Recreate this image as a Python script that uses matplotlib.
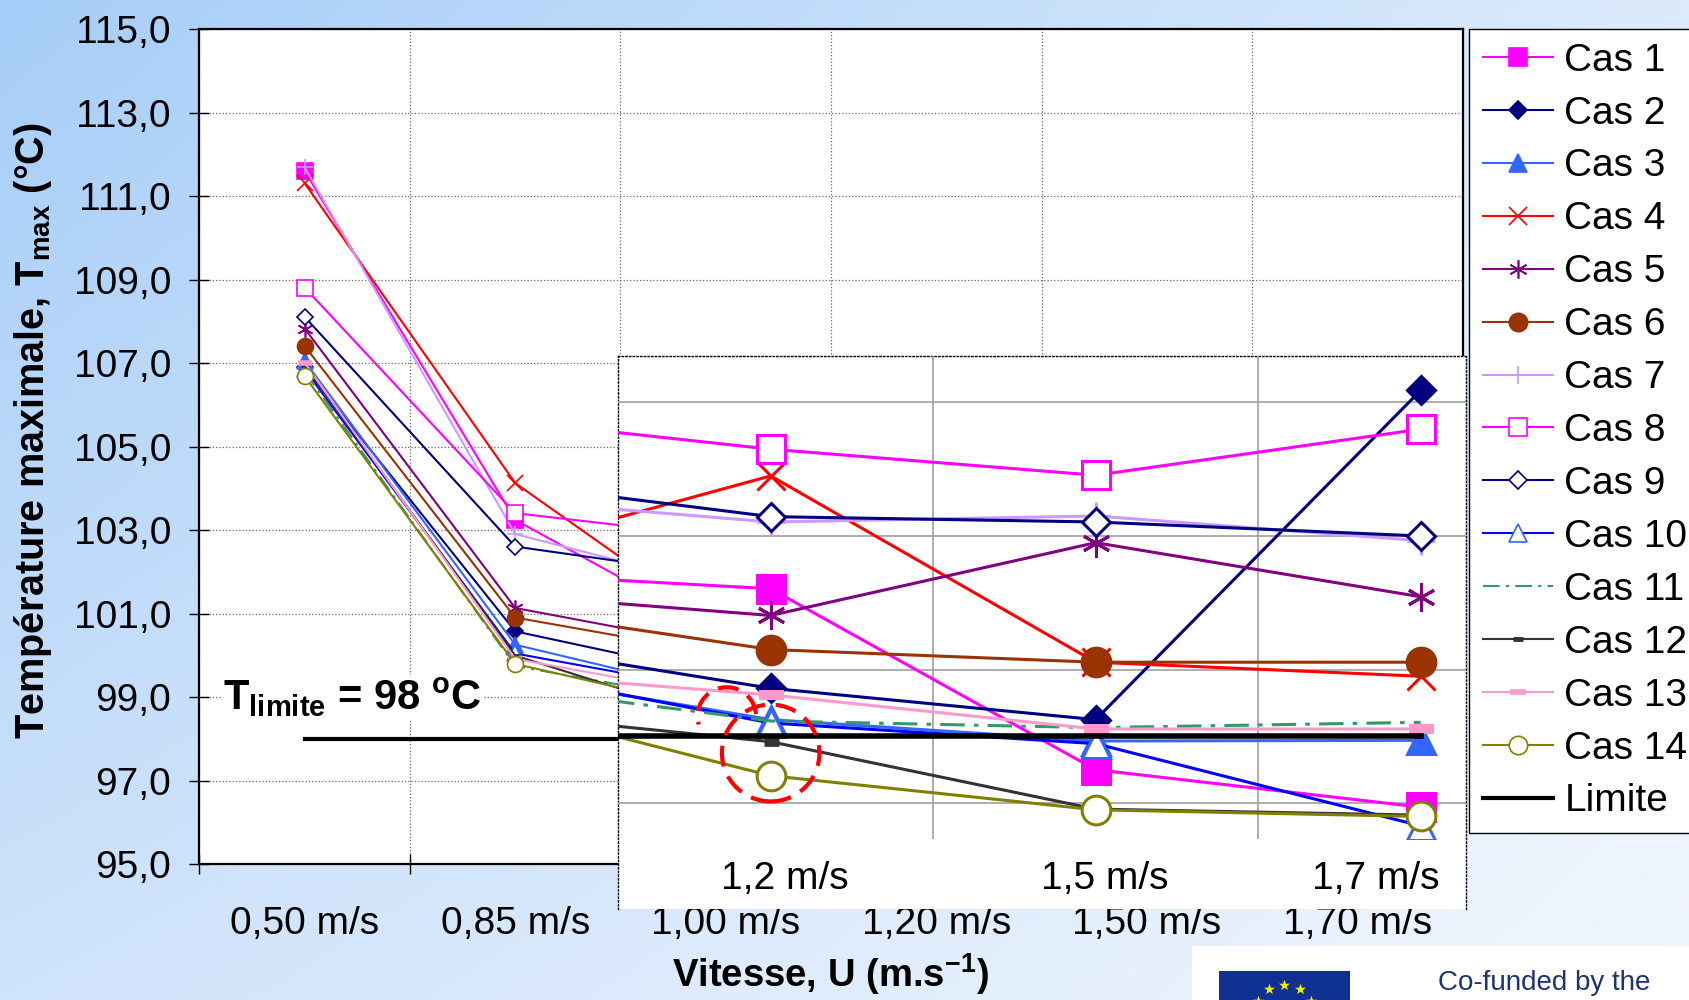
import numpy as np
import matplotlib
matplotlib.use('Agg')
import matplotlib.pyplot as plt
from matplotlib.patches import Ellipse, Arc, Rectangle

plt.rcParams['font.family'] = ['Liberation Sans', 'DejaVu Sans']
plt.rcParams['mathtext.fontset'] = 'custom'
plt.rcParams['mathtext.rm'] = 'Liberation Sans'
plt.rcParams['mathtext.bf'] = 'Liberation Sans:bold'
plt.rcParams['mathtext.it'] = 'Liberation Sans:italic'

# ---- data -------------------------------------------------------------
vitesses = ['0,50 m/s', '0,85 m/s', '1,00 m/s', '1,20 m/s', '1,50 m/s', '1,70 m/s']
zoom_labels = ['1,2 m/s', '1,5 m/s', '1,7 m/s']
cas_noms = ['Cas %d' % k for k in range(1, 15)]

cas1 = [111.60, 103.25, 100.48, 100.21, 97.50, 96.94]
cas2 = [106.90, 100.58, 99.50, 98.72, 98.25, 103.18]
cas3 = [107.05, 100.26, 99.06, 98.25, 97.93, 97.94]
cas4 = [111.31, 104.13, 100.57, 101.90, 99.11, 98.90]
cas5 = [107.83, 101.14, 100.19, 99.81, 100.90, 100.09]
cas6 = [107.41, 100.91, 100.02, 99.30, 99.11, 99.11]
cas7 = [111.69, 102.91, 101.61, 101.21, 101.30, 100.93]
cas8 = [108.81, 103.41, 102.83, 102.30, 101.91, 102.60]
cas9 = [108.11, 102.61, 101.90, 101.29, 101.21, 101.00]
cas10 = [106.85, 100.05, 99.13, 98.20, 97.89, 96.66]
cas11 = [106.80, 99.75, 98.85, 98.23, 98.13, 98.21]
cas12 = [106.95, 100.00, 98.41, 97.92, 96.91, 96.82]
cas13 = [107.01, 99.92, 99.00, 98.62, 98.11, 98.11]
cas14 = [106.69, 99.80, 98.65, 97.41, 96.90, 96.80]
limite = [98.0] * 6

series = [cas1, cas2, cas3, cas4, cas5, cas6, cas7,
          cas8, cas9, cas10, cas11, cas12, cas13, cas14]
yticks = np.arange(95, 116, 2)

# ---- styles ------------------------------------------------------------
styles = [
    dict(color='#FF00FF', marker='s', mfc='#FF00FF'),
    dict(color='#000080', marker='D', mfc='#000080'),
    dict(color='#3366FF', marker='^', mfc='#3366FF'),
    dict(color='#FF0000', marker='x'),
    dict(color='#800080', marker=(6, 2, 0)),
    dict(color='#993300', marker='o', mfc='#993300'),
    dict(color='#CC99FF', marker='+'),
    dict(color='#FF00FF', marker='s', mfc='white'),
    dict(color='#000080', marker='D', mfc='white'),
    dict(color='#0000FF', marker='^', mfc='white', mec='#3366FF'),
    dict(color='#339966', marker='None', ls=(0, (8, 3, 1.5, 3))),
    dict(color='#333333', marker='_'),
    dict(color='#FF99CC', marker='_'),
    dict(color='#808000', marker='o', mfc='white'),
]


def marker_size(st, big):
    m = st['marker']
    f = 1.8 if big else 1.0
    if m == 'D':
        return 8 * f, 1.2 * f
    if m == '_':
        if st['color'] == '#333333':
            return 6 * f, 3.5 * f
        return 10 * f, 4 * f
    return 11.5 * f, 1.2 * f


W, H = 1690, 1000
fig = plt.figure(figsize=(W / 100, H / 100), dpi=100)

# gradient background
bg = fig.add_axes([0, 0, 1, 1], zorder=-10)
tl = np.array([166, 206, 248]) / 255
tr = np.array([220, 235, 252]) / 255
bl = np.array([207, 227, 251]) / 255
br = np.array([242, 247, 254]) / 255
u = np.linspace(0, 1, 300)[None, :, None]
v = np.linspace(0, 1, 200)[:, None, None]
grad = (1 - v) * ((1 - u) * tl + u * tr) + v * ((1 - u) * bl + u * br)
bg.imshow(grad, aspect='auto', extent=[0, 1, 0, 1], origin='upper')
bg.axis('off')

# ---- main chart --------------------------------------------------------
ax = fig.add_axes([199.4 / W, 1 - 864.4 / H, 1263.2 / W, 835.3 / H])
x = np.arange(len(vitesses))
for nom, vals, st in zip(cas_noms, series, styles):
    kw = dict(st)
    ls = kw.pop('ls', '-')
    ms, mew = marker_size(st, False)
    ax.plot(x, vals, ls=ls, lw=1.5, ms=ms, mew=mew, label=nom, **kw)
ax.plot(x, limite, color='black', lw=3, label='Limite')

ax.set_xlim(-0.5, 5.5)
ax.set_ylim(95, 115)
ax.set_yticks(yticks)
ax.set_yticklabels([('%.1f' % t).replace('.', ',') for t in yticks])
ax.set_xticks(x)
ax.set_xticklabels(vitesses)
ax.set_xticks(np.arange(-0.5, 6, 1), minor=True)
ax.tick_params(axis='x', which='major', length=0, pad=30, labelsize=28)
ax.tick_params(axis='x', which='minor', direction='inout', length=15, width=1)
ax.tick_params(axis='y', direction='inout', length=15, width=1, labelsize=28, pad=13)
ax.grid(axis='y', which='major', ls=':', color='#666666', lw=0.9)
ax.grid(axis='x', which='minor', ls=':', color='#666666', lw=0.9)
for s in ax.spines.values():
    s.set_linewidth(1.6)
    s.set_color('black')

ax.text(-0.388, 98.70, r'$\mathbf{T_{limite}}$ = 98 $^{\mathbf{o}}$C', fontsize=30,
        fontweight='bold', va='baseline', ha='left',
        bbox=dict(facecolor='white', edgecolor='none', pad=1))

fig.text(33 / W, 1 - 431 / H, r'Température maximale, T$_{\mathbf{max}}$ (°C)',
         rotation=90, fontsize=28.5, fontweight='bold', ha='center', va='center')
fig.text(830 / W, 1 - 974 / H, r'Vitesse, U (m.s$^{\mathbf{-1}}$)',
         fontsize=27.5, fontweight='bold', ha='center', va='center')

# ---- zoomed inset ------------------------------------------------------
ins_bg = fig.add_axes([617.6 / W, 1 - 908.6 / H, 848.2 / W, 552.9 / H])
ins_bg.set_xticks([])
ins_bg.set_yticks([])
for s in ['left', 'top', 'right']:
    ins_bg.spines[s].set_linestyle(':')
    ins_bg.spines[s].set_linewidth(1.0)
ins_bg.spines['bottom'].set_visible(False)

ins = fig.add_axes([617.6 / W, 1 - 838.5 / H, 848.2 / W, 482.8 / H])
ins.patch.set_alpha(0)
for s in ins.spines.values():
    s.set_visible(False)
for vals, st in zip(series, styles):
    kw = dict(st)
    ls = kw.pop('ls', '-')
    ms, mew = marker_size(st, True)
    ins.plot(x, vals, ls=ls, lw=2.2, ms=ms, mew=mew, **kw)
ins.plot(x, limite, color='black', lw=4)
ins.set_xlim(2.529, 5.139)
ins.set_ylim(96.47, 103.70)
ins.set_yticks([97, 99, 101, 103])
ins.set_yticklabels([])
ins.tick_params(axis='y', length=0)
ins.set_xticks([3.044, 4.028, 4.862])
ins.set_xticklabels(zoom_labels)
ins.set_xticks([3.5, 4.5], minor=True)
ins.tick_params(axis='x', which='both', length=0, pad=16, labelsize=28)
ins.grid(axis='y', which='major', color='#A0A0A0', lw=1.2)
ins.grid(axis='x', which='minor', color='#A0A0A0', lw=1.2)
ins.set_axisbelow(True)

ins.add_patch(Ellipse((3.0, 97.75), 0.30, 1.45, fill=False, edgecolor='#FF0000',
                      lw=3, ls=(0, (5, 2.6)), zorder=5))
ins.add_patch(Arc((2.865, 98.30), 0.18, 0.87, theta1=20, theta2=235,
                  edgecolor='#FF0000', lw=3, ls=(0, (5, 2.6)), zorder=5))

# ---- legend -----------------------------------------------------------
handles, labels = ax.get_legend_handles_labels()
leg = fig.legend(handles, labels, loc='upper left', bbox_to_anchor=(1469 / W, 1 - 29 / H),
                 fontsize=28, frameon=True, fancybox=False, edgecolor='black',
                 framealpha=1, borderpad=0.35, labelspacing=0.435, handlelength=1.8,
                 handletextpad=0.3, borderaxespad=0, markerscale=1.15)
leg.get_frame().set_linewidth(1.0)

# ---- co-funded logo ------------------------------------------------------
ov = fig.add_axes([0, 0, 1, 1], zorder=20)
ov.set_xlim(0, W)
ov.set_ylim(H, 0)
ov.axis('off')
ov.add_patch(Rectangle((1192, 946), 520, 80, facecolor='white', edgecolor='none'))
ov.add_patch(Rectangle((1219, 971), 131, 60, facecolor='#0E3192', edgecolor='none'))
ang = np.deg2rad(np.arange(0, 360, 30))
sx = 1284.5 + 31 * np.cos(ang)
sy = 1016 - 31 * np.sin(ang)
ov.scatter(sx, sy, marker='*', s=70, color='#FFEC00', linewidths=0, clip_on=True)
ov.text(1438, 983, 'Co-funded by the', fontsize=20, color='#1D3473', va='center', ha='left')

fig.savefig('out.png', dpi=100)
